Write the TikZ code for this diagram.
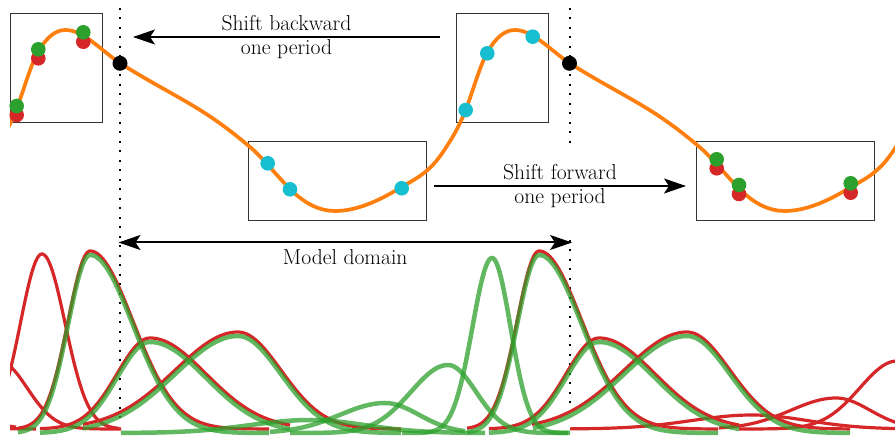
\documentclass[tikz,border=0pt]{standalone}
\usepackage{fontspec}
\usetikzlibrary{arrows.meta}
\definecolor{tOrange}{HTML}{FF7F0E}
\definecolor{tRed}{HTML}{D62728}
\definecolor{tGreen}{HTML}{2CA02C}
\definecolor{tCyan}{HTML}{17BECF}
\definecolor{boxgray}{HTML}{333333}

% asymmetric bump: style, baseline, centre, height, left spread, right spread, from, to
\newcommand\bumpcurve[8]{%
  \draw[#1] plot[domain=#7:#8, samples=110]
    (\x,{#2-#4*exp(-0.5*((\x-(#3))/(\x<(#3) ? #5 : #6))^2)});}

% one period of the signal, drawn relative to the current point
\newcommand\oneperiod{%
  .. controls +(26.67,17.33) and +(-26.67,-16.53) .. ++(80,47)
  .. controls +(16.67,10.33) and +(-16.67,-14.17) .. ++(50,37)
  .. controls +(13.33,11.33) and +(-13.33,-13.33) .. ++(40,42)
  .. controls +(15,15) and +(-15,0) .. ++(45,22)
  .. controls +(21.67,0) and +(-21.67,13) .. ++(65,-23)
  .. controls +(14.33,-8.6) and +(-14.33,21.5) .. ++(43,-36)
  .. controls +(7.67,-11.5) and +(-7.67,19.93) .. ++(23,-43)
  .. controls +(7,-18.2) and +(-7,12.6) .. ++(21,-56)
  .. controls +(9.33,-16.8) and +(-9.33,0) .. ++(28,-23)
  .. controls +(18.17,0) and +(-18.17,-11.81) .. ++(54.5,33)}

\tikzset{
  window/.style={draw=boxgray, line width=1pt, inner sep=0pt},
  sample/.style={circle, fill=#1, inner sep=0pt, minimum size=14.6pt},
  anchorpt/.style={circle, fill=black, inner sep=0pt, minimum size=15pt},
  guide/.style={line width=2pt, dash pattern=on 2pt off 7.5pt},
  shiftarrow/.style={line width=2pt, -{Stealth[length=22pt, width=15pt, inset=5pt]}},
  spanarrow/.style={line width=2pt, {Stealth[length=22pt, width=15pt, inset=5pt]}-{Stealth[length=22pt, width=15pt, inset=5pt]}},
  lab/.style={align=center, inner sep=0pt},
  signal/.style={tOrange, line width=3.7pt, line join=round},
  redbump/.style={tRed, line width=3.2pt, line join=round},
  greenbump/.style={tGreen, opacity=0.75, line width=4.5pt, line join=round},
}

\begin{document}
\begin{tikzpicture}[x=1pt, y=-1pt, font=\fontsize{21.6}{23.5}\selectfont]
\useasboundingbox (0,0) rectangle (895,438);

% period boundaries
\coordinate (gLtop) at (120,8);   \coordinate (gLbot) at (120,419);
\coordinate (gRtop) at (569.5,8); \coordinate (gRmidA) at (569.5,150);
\coordinate (gRmidB) at (569.5,240); \coordinate (gRbot) at (569.5,419);
\draw[guide] (gLtop) -- (gLbot);
\draw[guide] (gRtop) -- (gRmidA);
\draw[guide] (gRmidB) -- (gRbot);

% windows
\node[window, minimum width=92pt, minimum height=109pt] (winA) at (56.7,67.8) {};
\node[window, minimum width=92pt, minimum height=109pt] (winB) at (502.7,67.8) {};
\node[window, minimum width=177.7pt, minimum height=79.3pt] (winC) at (337.2,181.3) {};
\node[window, minimum width=177.7pt, minimum height=79.3pt] (winD) at (785.5,181.2) {};

% periodic signal
\begin{scope}
\clip (10,0) rectangle (895,438);
\draw[signal] (-329.5,63) \oneperiod \oneperiod \oneperiod;
\end{scope}

% period end points
\node[anchorpt] (pA) at (120,63.3) {};
\node[anchorpt] (pB) at (569.5,63.3) {};

% samples inside the model domain
\node[sample=tCyan] (cA) at (267.7,163.3) {};
\node[sample=tCyan] (cB) at (290,189.3) {};
\node[sample=tCyan] (cC) at (401.7,188.3) {};
\node[sample=tCyan] (cD) at (465.7,110) {};
\node[sample=tCyan] (cE) at (487.3,53.3) {};
\node[sample=tCyan] (cF) at (532.7,36.7) {};

% shifted samples
\node[sample=tRed] (rA) at (16.7,115) {};
\node[sample=tRed] (rB) at (38.3,58.3) {};
\node[sample=tRed] (rC) at (83.3,41.7) {};
\node[sample=tGreen] (sA) at (16.7,106) {};
\node[sample=tGreen] (sB) at (38.3,49.3) {};
\node[sample=tGreen] (sC) at (83.3,32.3) {};
\node[sample=tRed] (rD) at (716.7,168.3) {};
\node[sample=tRed] (rE) at (739,194) {};
\node[sample=tRed] (rF) at (850.7,192.7) {};
\node[sample=tGreen] (sD) at (716.7,159.3) {};
\node[sample=tGreen] (sE) at (739,185) {};
\node[sample=tGreen] (sF) at (850.7,183.3) {};

% shift arrows
\coordinate (bwTail) at (440,37);  \coordinate (bwTip) at (133,37);
\draw[shiftarrow] (bwTail) -- (bwTip)
  node[lab, midway] (bwLab) {Shift backward\\one period};
\coordinate (fwTail) at (434,186); \coordinate (fwTip) at (686,186);
\draw[shiftarrow] (fwTail) -- (fwTip)
  node[lab, midway] (fwLab) {Shift forward\\one period};

% model domain
\coordinate (mdL) at (118.5,242.5); \coordinate (mdR) at (572,242.5);
\draw[spanarrow] (mdL) -- (mdR)
  node[midway, below=6pt, inner sep=0pt] (mdLab) {Model domain};

% basis functions
\begin{scope}
\clip (10,0) rectangle (895,438);
\bumpcurve{redbump}{429}{-139}{13}{60}{55}{-328}{36}
\bumpcurve{redbump}{429}{-64}{30}{45}{34}{-179}{16}
\bumpcurve{redbump}{429}{-1}{68}{37}{28}{-159}{121}
\bumpcurve{redbump}{429}{42}{175}{21.5}{23}{-47}{119}
\bumpcurve{redbump}{429}{90}{178}{22}{43}{18}{269}
\bumpcurve{redbump}{429}{150}{91}{33}{56}{40}{290}
\bumpcurve{redbump}{429}{238}{97}{63}{43}{83}{401}
\bumpcurve{redbump}{429}{539}{178}{22}{43}{467}{718}
\bumpcurve{redbump}{429}{599}{91}{33}{56}{489}{739}
\bumpcurve{redbump}{429}{687}{97}{63}{43}{532}{850}
\bumpcurve{redbump}{429}{752}{14}{60}{55}{570}{934}
\bumpcurve{redbump}{429}{836}{31}{45}{34}{719}{914}
\bumpcurve{redbump}{429}{897}{68}{37}{28}{739}{1019}
\bumpcurve{greenbump}{433}{90}{178}{22}{43}{18}{269}
\bumpcurve{greenbump}{433}{150}{91}{33}{56}{40}{290}
\bumpcurve{greenbump}{433}{238}{97}{63}{43}{83}{401}
\bumpcurve{greenbump}{433}{310}{13}{60}{55}{121}{485}
\bumpcurve{greenbump}{433}{385}{30}{45}{34}{270}{465}
\bumpcurve{greenbump}{433}{448}{68}{37}{28}{290}{570}
\bumpcurve{greenbump}{433}{492}{175}{19.5}{18.5}{402}{568}
\bumpcurve{greenbump}{433}{539}{178}{22}{43}{467}{718}
\bumpcurve{greenbump}{433}{599}{91}{33}{56}{489}{739}
\bumpcurve{greenbump}{433}{687}{97}{63}{43}{533}{850}
\end{scope}
\end{tikzpicture}
\end{document}
